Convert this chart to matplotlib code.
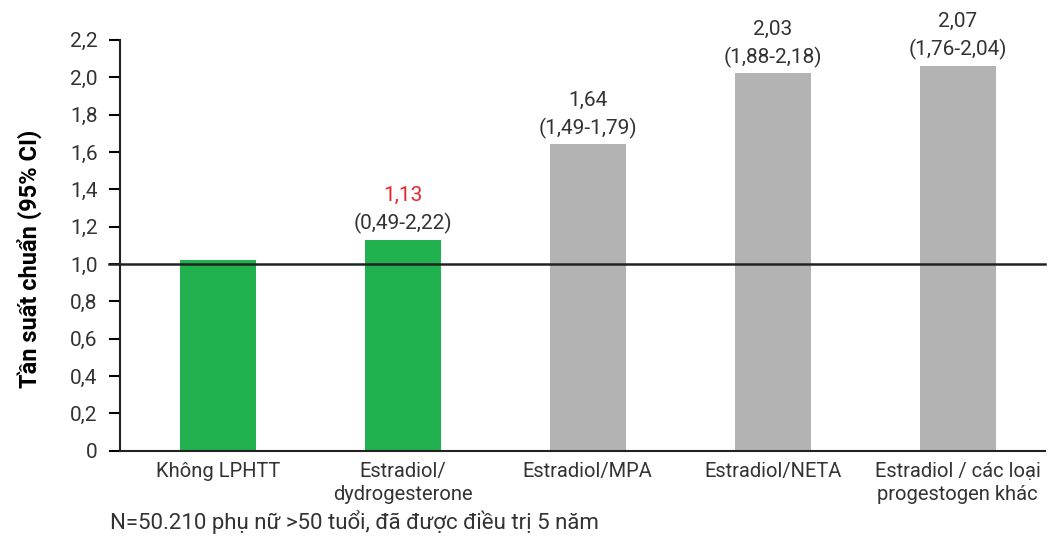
import matplotlib.pyplot as plt

# data
categories = ['Không LPHTT', 'Estradiol/\ndydrogesterone', 'Estradiol/MPA',
              'Estradiol/NETA', 'Estradiol / các loại\nprogestogen khác']
values = [1.02, 1.13, 1.64, 2.02, 2.06]
value_labels = ['', '1,13', '1,64', '2,03', '2,07']
ci_labels = ['', '(0,49-2,22)', '(1,49-1,79)', '(1,88-2,18)', '(1,76-2,04)']
bar_colors = ['#21b14f', '#21b14f', '#b3b3b3', '#b3b3b3', '#b3b3b3']
label_colors = ['#333333', '#e8262f', '#333333', '#333333', '#333333']
yticks = [0, 0.2, 0.4, 0.6, 0.8, 1.0, 1.2, 1.4, 1.6, 1.8, 2.0, 2.2]
ytick_labels = ['0', '0,2', '0,4', '0,6', '0,8', '1,0', '1,2', '1,4', '1,6', '1,8', '2,0', '2,2']

plt.rcParams['font.family'] = ['Roboto', 'DejaVu Sans']

fig = plt.figure(figsize=(10.51, 5.38), dpi=100)
ax = fig.add_axes([0.114, 0.162, 0.88, 0.764])

x = range(len(categories))
ax.bar(x, values, width=0.41, color=bar_colors, zorder=2)
ax.axhline(1.0, color='#222222', lw=1.8, zorder=3, xmin=-0.012, clip_on=False)

for i, v in enumerate(values):
    if ci_labels[i]:
        ax.annotate(ci_labels[i], (i, v), xytext=(0, 4), textcoords='offset points',
                    ha='center', va='bottom', fontsize=15, color='#333333')
        ax.annotate(value_labels[i], (i, v), xytext=(0, 25), textcoords='offset points',
                    ha='center', va='bottom', fontsize=15, color=label_colors[i])

ax.set_xlim(-0.53, 4.47)
ax.set_ylim(0, 2.2)
ax.set_yticks(yticks)
ax.set_yticklabels(ytick_labels, fontsize=15, color='#333333')
ax.set_xticks(list(x))
ax.set_xticklabels(categories, fontsize=14.5, color='#333333', linespacing=1.3)
ax.tick_params(axis='x', length=0, pad=8)
ax.tick_params(axis='y', length=8, width=1.5, pad=8, direction='out')

for s in ['top', 'right']:
    ax.spines[s].set_visible(False)
for s in ['left', 'bottom']:
    ax.spines[s].set_linewidth(1.5)
    ax.spines[s].set_color('#222222')

ax.set_ylabel('Tần suất chuẩn (95% CI)', fontsize=17, fontweight='bold')
ax.yaxis.set_label_coords(-0.083, 0.467)

fig.text(0.105, 0.03, 'N=50.210 phụ nữ >50 tuổi, đã được điều trị 5 năm',
         fontsize=16, color='#333333', ha='left', va='center')

fig.savefig('out.png', dpi=100)
